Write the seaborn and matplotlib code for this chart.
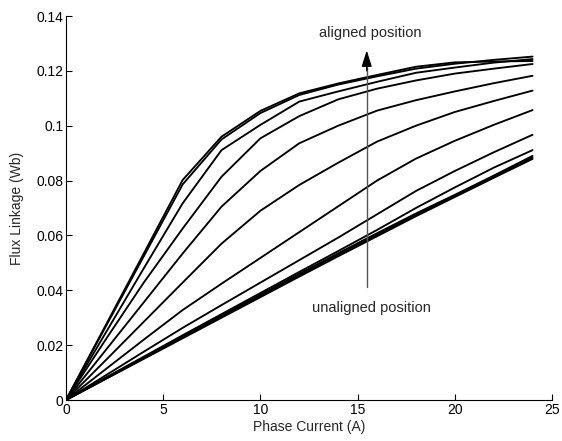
import numpy as np
import pandas as pd
import matplotlib
matplotlib.use("Agg")
import matplotlib.pyplot as plt
import seaborn as sns

# Phase current samples (A)
current = [0, 2, 4, 6, 8, 10, 12, 14, 16, 18, 20, 22, 24]

# Flux linkage (Wb) for each rotor position, aligned -> unaligned
flux_p01 = [0, 0.0267, 0.0534, 0.0802, 0.0960, 0.1054, 0.1118, 0.1154, 0.1185, 0.1215, 0.1231, 0.1234, 0.1236]
flux_p02 = [0, 0.0262, 0.0524, 0.0786, 0.0950, 0.1046, 0.1112, 0.1150, 0.1180, 0.1208, 0.1226, 0.1240, 0.1252]
flux_p03 = [0, 0.0240, 0.0480, 0.0717, 0.0911, 0.1003, 0.1088, 0.1125, 0.1160, 0.1193, 0.1212, 0.1230, 0.1243]
flux_p04 = [0, 0.0216, 0.0428, 0.0625, 0.0814, 0.0954, 0.1035, 0.1096, 0.1135, 0.1165, 0.1190, 0.1208, 0.1225]
flux_p05 = [0, 0.0178, 0.0356, 0.0534, 0.0705, 0.0835, 0.0936, 0.1000, 0.1055, 0.1093, 0.1125, 0.1155, 0.1182]
flux_p06 = [0, 0.0142, 0.0285, 0.0428, 0.0570, 0.0690, 0.0784, 0.0865, 0.0942, 0.1000, 0.1050, 0.1090, 0.1128]
flux_p07 = [0, 0.0110, 0.0220, 0.0328, 0.0424, 0.0518, 0.0612, 0.0706, 0.0800, 0.0880, 0.0945, 0.1003, 0.1057]
flux_p08 = [0, 0.0088, 0.0176, 0.0263, 0.0346, 0.0428, 0.0510, 0.0592, 0.0677, 0.0762, 0.0835, 0.0903, 0.0967]
flux_p09 = [0, 0.0080, 0.0158, 0.0236, 0.0313, 0.0390, 0.0467, 0.0543, 0.0620, 0.0700, 0.0775, 0.0847, 0.0911]
flux_p10 = [0, 0.0078, 0.0155, 0.0232, 0.0308, 0.0384, 0.0460, 0.0535, 0.0608, 0.0680, 0.0748, 0.0818, 0.0890]
flux_p11 = [0, 0.0076, 0.0152, 0.0228, 0.0304, 0.0380, 0.0455, 0.0530, 0.0602, 0.0675, 0.0744, 0.0813, 0.0884]
flux_p12 = [0, 0.0075, 0.0150, 0.0225, 0.0300, 0.0375, 0.0450, 0.0524, 0.0597, 0.0670, 0.0740, 0.0810, 0.0879]

series = [flux_p01, flux_p02, flux_p03, flux_p04, flux_p05, flux_p06,
          flux_p07, flux_p08, flux_p09, flux_p10, flux_p11, flux_p12]

x_ticks = [0, 5, 10, 15, 20, 25]
y_ticks = [0, 0.02, 0.04, 0.06, 0.08, 0.1, 0.12, 0.14]
y_tick_labels = ["0", "0.02", "0.04", "0.06", "0.08", "0.1", "0.12", "0.14"]

rows = []
for i, s in enumerate(series):
    for c, f in zip(current, s):
        rows.append({"current": c, "flux": f, "pos": f"p{i+1}"})
df = pd.DataFrame(rows)

sns.set_style("ticks")
plt.rcParams["font.family"] = ["Liberation Sans", "DejaVu Sans"]
plt.rcParams["xtick.direction"] = "in"
plt.rcParams["ytick.direction"] = "in"

fig = plt.figure(figsize=(5.62, 4.41), dpi=100)
ax = fig.add_axes([66/562, 41/441, (552-66)/562, (400-16)/441])

sns.lineplot(data=df, x="current", y="flux", hue="pos",
             palette=["black"] * len(series), legend=False, linewidth=1.35,
             estimator=None, ax=ax)

ax.set_xlim(0, 25)
ax.set_ylim(0, 0.14)
ax.set_xticks(x_ticks)
ax.set_xticklabels([str(t) for t in x_ticks])
ax.set_yticks(y_ticks)
ax.set_yticklabels(y_tick_labels)
ax.tick_params(labelsize=10, length=4, width=0.8, colors="black", pad=2)
for side in ["top", "right"]:
    ax.spines[side].set_visible(False)
for side in ["left", "bottom"]:
    ax.spines[side].set_linewidth(0.8)
    ax.spines[side].set_color("black")

ax.set_xlabel("Phase Current (A)", fontsize=10, labelpad=2)
ax.set_ylabel("Flux Linkage (Wb)", fontsize=10, labelpad=9)

# annotation arrow
ax.plot([15.47, 15.47], [0.0413, 0.124], color="#555555", lw=1.0)
ax.annotate("", xy=(15.47, 0.1275), xytext=(15.47, 0.120),
            arrowprops=dict(arrowstyle="-|>,head_length=0.7,head_width=0.22",
                            color="black", lw=1.0,
                            mutation_scale=14, shrinkA=0, shrinkB=0))
ax.text(15.65, 0.1338, "aligned position", ha="center", va="center", fontsize=10.5)
ax.text(15.7, 0.0335, "unaligned position", ha="center", va="center", fontsize=10.5)

fig.savefig("out.png", dpi=100)
